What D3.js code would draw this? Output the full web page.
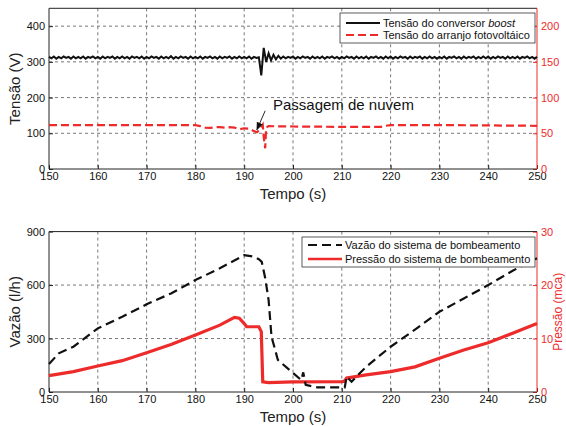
<!DOCTYPE html>
<html>
<head>
<meta charset="utf-8">
<title>Passagem de nuvem</title>
<script src="https://d3js.org/d3.v7.min.js"></script>
<style>
  body { margin: 0; background: #fff; }
  svg { font-family: "Liberation Sans", Arial, sans-serif; }
</style>
</head>
<body>
<div id="chart"></div>
<script>
// ticks
var timeTicks = [150, 160, 170, 180, 190, 200, 210, 220, 230, 240, 250];
var voltTicks = [0, 100, 200, 300, 400];
var pvTicks = [0, 50, 100, 150, 200];
var flowTicks = [0, 300, 600, 900];
var pressTicks = [0, 10, 20, 30];

// tensao do conversor boost (V), one sample each 0.5 s starting at 150 s
var boostStart = 150, boostStep = 0.5;
var boostVolt = [
  314,310,315,309,314,310,315,311,314,309,315,310,314,310,315,309,314,311,315,310,
  314,309,315,310,314,311,315,309,314,310,315,310,314,309,315,311,314,310,315,309,
  314,310,315,311,314,309,315,310,314,310,316,309,314,310,315,311,314,309,315,310,
  314,310,315,309,314,311,315,310,314,309,315,310,314,311,315,309,314,310,315,310,
  314,310,315,309,314,311,313,262,339,300,324,304,320,307,317,309,315,310,314,311,
  315,309,314,310,315,311,314,309,315,310,314,310,315,309,314,311,315,310,314,309,
  314,310,315,311,314,309,315,310,314,310,315,309,314,311,315,310,314,309,315,310,
  315,309,314,310,315,311,314,309,315,310,314,311,315,309,314,310,315,310,314,309,
  314,310,315,309,314,311,315,310,314,309,315,310,314,311,315,309,314,310,315,310,
  315,309,314,310,315,311,314,309,315,310,314,310,315,309,314,311,315,310,314,309,
  314
];

// tensao do arranjo fotovoltaico (right axis, V)
var pvTime = [150, 160, 170, 180, 181, 182, 183, 184, 185, 186, 187, 188, 189, 190, 191, 192, 192.6, 193.2, 193.8, 194.0, 194.3, 194.5, 195, 200, 210, 218, 219, 220, 230, 240, 250];
var pvVolt = [61.5, 61.5, 61.5, 61.5, 60, 58, 57.5, 58.5, 58.5, 58, 58.5, 58, 55.5, 57, 56.5, 53, 51.5, 55, 62, 45, 29, 58, 60, 59.5, 59, 59, 60.5, 61.5, 61.5, 61, 60.5];

// vazao do sistema de bombeamento (l/h)
var flowTime = [150, 152, 155, 160, 165, 170, 175, 180, 185, 189, 190, 192, 193, 193.6, 194.3, 195, 195.6, 196.9, 199.7, 201.7, 202.1, 202.6, 205, 210, 210.6, 211, 212, 215, 220, 225, 230, 235, 240, 245, 250];
var flowVal = [157, 217, 254, 357, 422, 492, 553, 628, 694, 753, 768, 759, 745, 730, 640, 516, 310, 180, 114, 67, 110, 40, 26, 26, 26, 86, 58, 142, 254, 350, 450, 525, 600, 680, 751];

// pressao do sistema de bombeamento (mca)
var pressTime = [150, 155, 160, 165, 170, 175, 180, 185, 188, 189, 190, 190.5, 193, 193.5, 193.8, 195, 200, 210, 210.5, 211, 215, 220, 225, 230, 235, 240, 245, 250];
var pressVal = [3.05, 3.8, 4.86, 5.86, 7.35, 8.9, 10.65, 12.5, 13.95, 13.8, 12.8, 12.2, 12.2, 11.3, 1.9, 1.75, 1.9, 1.95, 2.0, 2.6, 3.2, 3.8, 4.7, 6.3, 7.85, 9.2, 11, 12.8];

var red = "#ee2b2b";
var W = 566, H = 427;
var left = 49, right = 537;

var svg = d3.select("#chart").append("svg")
  .attr("width", W).attr("height", H);

var defs = svg.append("defs");
defs.append("marker")
  .attr("id", "arrow")
  .attr("viewBox", "0 0 10 10")
  .attr("refX", 9).attr("refY", 5)
  .attr("markerWidth", 9).attr("markerHeight", 9)
  .attr("orient", "auto")
  .append("path")
  .attr("d", "M0,1 L10,5 L0,9 Z")
  .attr("fill", "#111");

var x = d3.scaleLinear().domain([150, 250]).range([left, right]);

function panel(top, bottom, yL, yR, lTicks, rTicks, yLabel, rLabel) {
  var g = svg.append("g");

  // grid
  g.selectAll(".vgrid")
    .data(timeTicks.slice(1, -1))
    .enter().append("line")
    .attr("x1", function(d) { return x(d); })
    .attr("x2", function(d) { return x(d); })
    .attr("y1", top).attr("y2", bottom)
    .attr("stroke", "#555").attr("stroke-width", 0.8)
    .attr("stroke-dasharray", "3,3");
  g.selectAll(".hgrid")
    .data(lTicks.filter(function(d) { return yL(d) > top + 1 && yL(d) < bottom - 1; }))
    .enter().append("line")
    .attr("x1", left).attr("x2", right)
    .attr("y1", function(d) { return yL(d); })
    .attr("y2", function(d) { return yL(d); })
    .attr("stroke", "#555").attr("stroke-width", 0.8)
    .attr("stroke-dasharray", "3,3");

  // axes
  var ax = g.append("g")
    .attr("transform", "translate(0," + bottom + ")")
    .call(d3.axisBottom(x).tickValues(timeTicks).tickSizeInner(-4).tickSizeOuter(0).tickPadding(3));
  var ay = g.append("g")
    .attr("transform", "translate(" + left + ",0)")
    .call(d3.axisLeft(yL).tickValues(lTicks).tickSizeInner(-4).tickSizeOuter(0).tickPadding(4));
  var ar = g.append("g")
    .attr("transform", "translate(" + right + ",0)")
    .call(d3.axisRight(yR).tickValues(rTicks).tickSizeInner(-4).tickSizeOuter(0).tickPadding(4));
  [ax, ay, ar].forEach(function(a) {
    a.select(".domain").remove();
    a.selectAll("text").style("font-size", "11px").attr("fill", "#111");
    a.selectAll("line").attr("stroke", "#222");
  });
  ar.selectAll("text").attr("fill", red);
  ar.selectAll("line").attr("stroke", red);

  // frame
  g.append("line").attr("x1", left).attr("x2", right).attr("y1", top).attr("y2", top).attr("stroke", "#222");
  g.append("line").attr("x1", left).attr("x2", right).attr("y1", bottom).attr("y2", bottom).attr("stroke", "#222");
  g.append("line").attr("x1", left).attr("x2", left).attr("y1", top).attr("y2", bottom).attr("stroke", "#222");
  g.append("line").attr("x1", right).attr("x2", right).attr("y1", top).attr("y2", bottom).attr("stroke", red);

  // labels
  g.append("text")
    .attr("transform", "translate(20," + ((top + bottom) / 2) + ") rotate(-90)")
    .attr("text-anchor", "middle")
    .style("font-size", "15px").attr("fill", "#222")
    .text(yLabel);
  g.append("text")
    .attr("x", (left + right) / 2).attr("y", bottom + 30)
    .attr("text-anchor", "middle")
    .style("font-size", "15px").attr("fill", "#222")
    .text("Tempo (s)");
  if (rLabel) {
    g.append("text")
      .attr("transform", "translate(562," + ((top + bottom) / 2) + ") rotate(-90)")
      .attr("text-anchor", "middle")
      .style("font-size", "12px").attr("fill", red)
      .text(rLabel);
  }
  return g;
}

// ---- top panel ----
var yV = d3.scaleLinear().domain([0, 450]).range([169, 8.3]);
var yPv = d3.scaleLinear().domain([0, 225]).range([169, 8.3]);
var gTop = panel(8.3, 169, yV, yPv, voltTicks, pvTicks, "Tensão (V)", null);

gTop.append("path")
  .datum(pvVolt)
  .attr("fill", "none").attr("stroke", red)
  .attr("stroke-width", 2.2).attr("stroke-dasharray", "8,4")
  .attr("d", d3.line()
    .x(function(d, i) { return x(pvTime[i]); })
    .y(function(d) { return yPv(d); }));

gTop.append("path")
  .datum(boostVolt)
  .attr("fill", "none").attr("stroke", "#111")
  .attr("stroke-width", 2)
  .attr("d", d3.line()
    .x(function(d, i) { return x(boostStart + i * boostStep); })
    .y(function(d) { return yV(d); }));

// annotation
gTop.append("text")
  .attr("x", x(195.9)).attr("y", yV(166))
  .style("font-size", "15px").attr("fill", "#111")
  .text("Passagem de nuvem");
gTop.append("line")
  .attr("x1", x(194.3)).attr("y1", yV(163))
  .attr("x2", x(192.6)).attr("y2", yV(110))
  .attr("stroke", "#111").attr("stroke-width", 0.9)
  .attr("marker-end", "url(#arrow)");

// top legend
var lg1 = gTop.append("g");
lg1.append("rect").attr("x", 340).attr("y", 13).attr("width", 195).attr("height", 30)
  .attr("fill", "#fff").attr("stroke", "#333").attr("stroke-width", 0.8);
lg1.append("line").attr("x1", 346).attr("x2", 380).attr("y1", 23).attr("y2", 23)
  .attr("stroke", "#111").attr("stroke-width", 2);
lg1.append("line").attr("x1", 346).attr("x2", 380).attr("y1", 35).attr("y2", 35)
  .attr("stroke", red).attr("stroke-width", 2.2).attr("stroke-dasharray", "8,4");
var t1 = lg1.append("text").attr("x", 383).attr("y", 27).style("font-size", "11px").attr("fill", "#111");
t1.append("tspan").text("Tensão do conversor ");
t1.append("tspan").style("font-style", "italic").text("boost");
lg1.append("text").attr("x", 383).attr("y", 39).style("font-size", "11px").attr("fill", "#111")
  .text("Tensão do arranjo fotovoltáico");

// ---- bottom panel ----
var yF = d3.scaleLinear().domain([0, 900]).range([392, 231.6]);
var yP = d3.scaleLinear().domain([0, 30]).range([392, 231.6]);
var gBot = panel(231.6, 392, yF, yP, flowTicks, pressTicks, "Vazão (l/h)", "Pressão (mca)");

gBot.append("path")
  .datum(pressVal)
  .attr("fill", "none").attr("stroke", red)
  .attr("stroke-width", 3.2)
  .attr("d", d3.line()
    .x(function(d, i) { return x(pressTime[i]); })
    .y(function(d) { return yP(d); }));

gBot.append("path")
  .datum(flowVal)
  .attr("fill", "none").attr("stroke", "#111")
  .attr("stroke-width", 2.2).attr("stroke-dasharray", "9,5")
  .attr("d", d3.line()
    .x(function(d, i) { return x(flowTime[i]); })
    .y(function(d) { return yF(d); }));

// bottom legend
var lg2 = gBot.append("g");
lg2.append("rect").attr("x", 302).attr("y", 237).attr("width", 233).attr("height", 30)
  .attr("fill", "#fff").attr("stroke", "#333").attr("stroke-width", 0.8);
lg2.append("line").attr("x1", 308).attr("x2", 342).attr("y1", 245).attr("y2", 245)
  .attr("stroke", "#111").attr("stroke-width", 2.2).attr("stroke-dasharray", "9,5");
lg2.append("line").attr("x1", 308).attr("x2", 342).attr("y1", 259).attr("y2", 259)
  .attr("stroke", red).attr("stroke-width", 2.5);
lg2.append("text").attr("x", 345).attr("y", 249).style("font-size", "11px").attr("fill", "#111")
  .text("Vazão do sistema de bombeamento");
lg2.append("text").attr("x", 345).attr("y", 263).style("font-size", "11px").attr("fill", "#111")
  .text("Pressão do sistema de bombeamento");
</script>
</body>
</html>
